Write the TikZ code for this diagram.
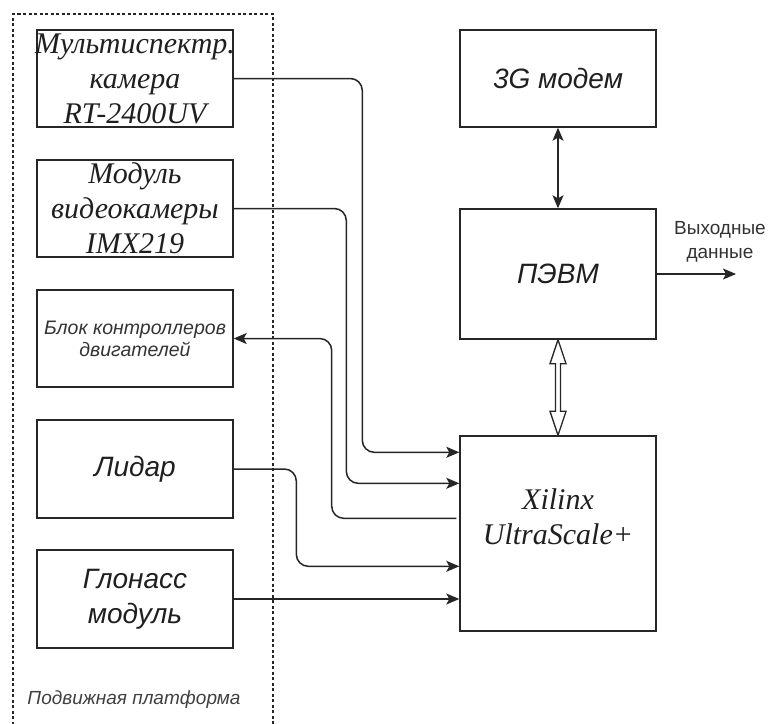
\documentclass[tikz,border=0pt]{standalone}
\usepackage{fontspec}
\setmainfont{Liberation Serif}
\newfontfamily\sansf{Liberation Sans}
\usetikzlibrary{arrows.meta,calc}
\begin{document}
\begin{tikzpicture}[x=1pt,y=-1pt,
  box/.style={draw=black!85, line width=1.4pt, minimum width=196pt, inner sep=0pt},
  serift/.style={font=\fontsize{30}{35}\selectfont\itshape, align=center, text=black!88, inner sep=0pt},
  sanst/.style={font=\sansf\itshape\fontsize{28}{35}\selectfont, align=center, text=black!88, inner sep=0pt},
  smallt/.style={font=\sansf\itshape\fontsize{19.5}{22}\selectfont, align=center, text=black!80, inner sep=0pt},
  conn/.style={line width=1.5pt, draw=black!85, rounded corners=12pt},
  arr/.style={conn, -{Stealth[length=13pt,width=11pt,inset=3pt]}},
  dblarr/.style={conn, {Stealth[length=13pt,width=11pt,inset=3pt]}-{Stealth[length=13pt,width=11pt,inset=3pt]}},
]
\useasboundingbox (0,0) rectangle (770,723);
% platform frame
\draw[line width=1.3pt, draw=black!85, dash pattern=on 3pt off 2.5pt] (13,730) -- (13,14) -- (273,14) -- (273,730);
\node[smallt, font=\sansf\itshape\fontsize{19}{22}\selectfont, text=black!75] (plat) at (134,700) {Подвижная платформа};

% left boxes
\node[box, minimum height=97pt] (b1) at (135,78.5) {};
\node[serift] (b1t) at (b1) {Мультиспектр.\\камера\\RT-2400UV};
\node[box, minimum height=97pt] (b2) at (135,208.5) {};
\node[serift] (b2t) at (b2) {Модуль\\видеокамеры\\IMX219};
\node[box, minimum height=97pt] (b3) at (135,338.5) {};
\node[smallt] (b3t) at (b3) {Блок контроллеров\\двигателей};
\node[box, minimum height=98pt] (b4) at (135,469) {};
\node[sanst] (b4t) at (b4) {Лидар};
\node[box, minimum height=98pt] (b5) at (135,599) {};
\node[sanst] (b5t) at (b5) {Глонасс\\модуль};

% right boxes
\node[box, minimum height=97pt] (modem) at (558,78.5) {};
\node[sanst] (modemt) at (modem) {3G модем};
\node[box, minimum height=130pt] (pevm) at (558,274) {};
\node[sanst] (pevmt) at (pevm) {ПЭВМ};
\node[box, minimum height=195pt] (xil) at (558,533.5) {};
\node[serift] (xilt) at (558,517) {Xilinx\\UltraScale+};

% ports on Xilinx
\coordinate (in1) at ($(xil.north west)+(0,17)$);
\coordinate (in2) at ($(xil.north west)+(0,48)$);
\coordinate (out3) at ($(xil.north west)+(-3,83)$);
\coordinate (in4) at ($(xil.north west)+(0,131)$);

% connectors
\draw[arr] (b1.east) -| ($(in1)+(-97,0)$) -- (in1);
\draw[arr] (b2.east) -| ($(in2)+(-113,0)$) -- (in2);
\draw[arr] (out3) -| ($(b3.east)+(98,0)$) -- (b3.east);
\draw[arr] (b4.east) -| ($(in4)+(-163,0)$) -- (in4);
\draw[arr] (b5.east) -- (b5.east -| xil.west);

\draw[dblarr] (modem.south) -- (pevm.north);
\draw[line width=1.3pt, draw=black!85, fill=white, line join=miter]
  (pevm.south) -- ++(8,24) -- ++(-5.5,0) -- ($(xil.north)+(2.5,-24)$) -- ++(5.5,0)
  -- (xil.north) -- ++(-8,-24) -- ++(5.5,0) -- ($(pevm.south)+(-2.5,24)$) -- ++(-5.5,0) -- cycle;

\coordinate (outend) at (736,274);
\draw[arr] (pevm.east) -- (outend);
\node[font=\sansf\fontsize{19}{24}\selectfont, align=center, text=black!80, inner sep=0pt] (outl) at (720,242) {Выходные\\данные};
\end{tikzpicture}
\end{document}
